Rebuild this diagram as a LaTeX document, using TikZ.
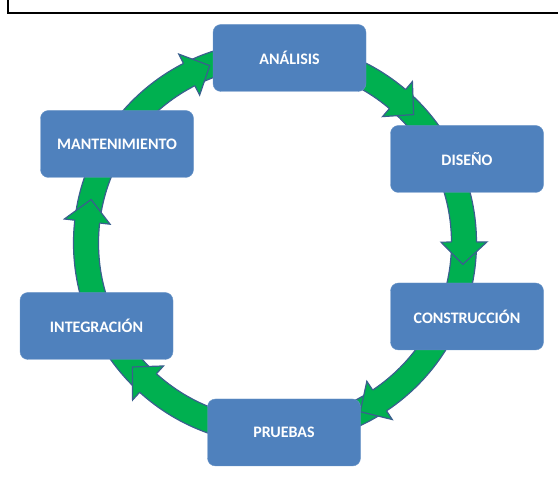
\documentclass[tikz,border=0pt]{standalone}
\usepackage{fontspec}
\setmainfont{Carlito}
\usepackage{tikz}
\usetikzlibrary{positioning}

\definecolor{stageblue}{HTML}{4F81BD}
\definecolor{ringgreen}{HTML}{00B050}
\definecolor{ringedge}{HTML}{3A5F8E}

\begin{document}
\begin{tikzpicture}[x=1pt, y=1pt,
    stage/.style={rectangle, draw=stageblue!85!white, thin, fill=stageblue, minimum width=153pt, minimum height=67pt, rounded corners=8pt, align=center, text=white, font=\fontsize{16}{19}\selectfont\bfseries},
    ring/.style={fill=ringgreen, draw=ringedge, line width=1.2pt, even odd rule},
    ringhead/.style={draw=ringedge, line width=1.2pt, line join=miter}]

    % Frame
    \useasboundingbox (0,0) rectangle (558,477);
    \draw[line width=2pt] (7.5,477) -- (7.5,464) -- (558,464);

    % Ring with arrow heads
    \begin{scope}[shift={(275,234)}]
        \draw[ring] (0,0) circle (201.5) (0,0) circle (176.5);
        \foreach \b in {49.6, 0.3, -56.4, -132.2, 173.5, 117} {
            \fill[ringgreen] (\b:176.5) -- (\b:166) -- (\b-6.8:189) -- (\b:212) -- (\b:201.5) -- cycle;
            \draw[ringhead] (\b:176.5) -- (\b:166) -- (\b-6.8:189) -- (\b:212) -- (\b:201.5);
        }
    \end{scope}

    % Stages
    \node[stage] (analisis) at (289.5,419) {ANÁLISIS};
    \node[stage] (diseno) at (467,318) {DISEÑO};
    \node[stage] (construccion) at (467,160.5) {CONSTRUCCIÓN};
    \node[stage] (pruebas) at (284,44.5) {PRUEBAS};
    \node[stage] (integracion) at (96.5,151) {INTEGRACIÓN};
    \node[stage] (mantenimiento) at (117,333) {MANTENIMIENTO};

\end{tikzpicture}
\end{document}
